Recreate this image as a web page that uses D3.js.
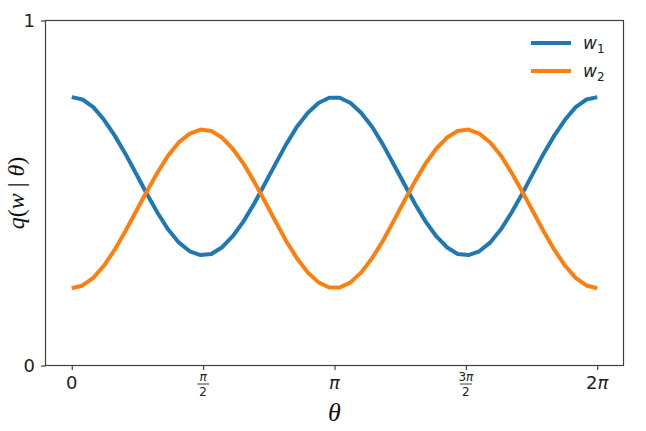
<!DOCTYPE html>
<html>
<head>
<meta charset="utf-8">
<script src="https://cdn.jsdelivr.net/npm/d3@7"></script>
<style>
  body { margin: 0; background: #fff; }
  svg { display: block; }
</style>
</head>
<body>
<svg id="chart" width="646" height="431"></svg>
<script>
// theta in units of pi
var theta = [0, 0.041, 0.082, 0.122, 0.163, 0.204, 0.245, 0.286, 0.327, 0.367,
  0.408, 0.449, 0.490, 0.531, 0.571, 0.612, 0.653, 0.694, 0.735, 0.776,
  0.816, 0.857, 0.898, 0.939, 0.980, 1.020, 1.061, 1.102, 1.143, 1.184,
  1.224, 1.265, 1.306, 1.347, 1.388, 1.429, 1.469, 1.510, 1.551, 1.592,
  1.633, 1.673, 1.714, 1.755, 1.796, 1.837, 1.878, 1.918, 1.959, 2.000];

var w1 = [0.778, 0.771, 0.749, 0.713, 0.667, 0.614, 0.556, 0.497, 0.442, 0.394,
  0.356, 0.331, 0.320, 0.323, 0.342, 0.374, 0.417, 0.469, 0.527, 0.585,
  0.641, 0.692, 0.732, 0.761, 0.776, 0.776, 0.761, 0.732, 0.692, 0.641,
  0.585, 0.527, 0.469, 0.417, 0.374, 0.342, 0.323, 0.320, 0.331, 0.356,
  0.394, 0.442, 0.497, 0.556, 0.614, 0.667, 0.713, 0.749, 0.771, 0.778];

var w2 = [0.224, 0.232, 0.254, 0.289, 0.335, 0.389, 0.447, 0.505, 0.560, 0.609,
  0.647, 0.672, 0.684, 0.680, 0.661, 0.629, 0.586, 0.533, 0.476, 0.417,
  0.361, 0.311, 0.270, 0.241, 0.226, 0.226, 0.241, 0.270, 0.311, 0.361,
  0.417, 0.476, 0.533, 0.586, 0.629, 0.661, 0.680, 0.684, 0.672, 0.647,
  0.609, 0.560, 0.505, 0.447, 0.389, 0.335, 0.289, 0.254, 0.232, 0.224];

var xTicks = [0, 0.5, 1, 1.5, 2];
var xTickLabels = [{t: '0'}, {num: 'π', den: '2'}, {t: 'π'}, {num: '3π', den: '2'}, {t: '2π'}];
var yTicks = [0, 1];

var series = [
  {name: 'w', sub: '1', values: w1, color: '#1f77b4'},
  {name: 'w', sub: '2', values: w2, color: '#ff7f0e'}
];

var svg = d3.select('#chart');
var mLeft = 45.5, mRight = 623.5, mTop = 20.5, mBottom = 365.5;

var x = d3.scaleLinear().domain([-0.1, 2.1]).range([mLeft, mRight]);
var y = d3.scaleLinear().domain([0, 1]).range([mBottom, mTop]);

var sans = "'DejaVu Sans', sans-serif";
var serif = "'Liberation Serif', 'DejaVu Serif', serif";

// split "3π" into digits + italic pi
function mathText(sel, str){
  str.split('').forEach(function(ch){
    sel.append('tspan')
      .attr('font-style', ch === 'π' ? 'italic' : 'normal')
      .text(ch);
  });
}

// lines
var line = d3.line()
  .x(function(d, i){ return x(theta[i]); })
  .y(function(d){ return y(d); });

svg.selectAll('.curve')
  .data(series).enter()
  .append('path')
  .attr('class', 'curve')
  .attr('d', function(d){ return line(d.values); })
  .attr('fill', 'none')
  .attr('stroke', function(d){ return d.color; })
  .attr('stroke-width', 4)
  .attr('stroke-linejoin', 'round');

// frame
svg.append('rect')
  .attr('x', mLeft).attr('y', mTop)
  .attr('width', mRight - mLeft).attr('height', mBottom - mTop)
  .attr('fill', 'none')
  .attr('stroke', '#404040')
  .attr('stroke-width', 1.2);

// x axis
var xAxis = d3.axisBottom(x).tickValues(xTicks).tickSize(4.5).tickFormat('');
var gx = svg.append('g').attr('transform', 'translate(0,' + mBottom + ')').call(xAxis);
gx.select('.domain').remove();
gx.selectAll('line').attr('stroke', '#404040').attr('stroke-width', 1.2);

xTicks.forEach(function(v, i){
  var lab = xTickLabels[i];
  var cx = x(v);
  if (lab.t) {
    var t = svg.append('text')
      .attr('x', cx).attr('y', 389)
      .attr('text-anchor', 'middle')
      .attr('font-family', sans)
      .attr('font-size', 18)
      .attr('fill', '#222');
    mathText(t, lab.t);
  } else {
    var n = svg.append('text')
      .attr('x', cx).attr('y', 381)
      .attr('text-anchor', 'middle')
      .attr('font-family', sans)
      .attr('font-size', 12)
      .attr('fill', '#222');
    mathText(n, lab.num);
    svg.append('line')
      .attr('x1', cx - 6).attr('x2', cx + 6)
      .attr('y1', 384).attr('y2', 384)
      .attr('stroke', '#222').attr('stroke-width', 0.9);
    svg.append('text')
      .attr('x', cx).attr('y', 396)
      .attr('text-anchor', 'middle')
      .attr('font-family', sans)
      .attr('font-size', 12)
      .attr('fill', '#222')
      .text(lab.den);
  }
});

// y axis
var yAxis = d3.axisLeft(y).tickValues(yTicks).tickSize(4.5).tickFormat('');
var gy = svg.append('g').attr('transform', 'translate(' + mLeft + ',0)').call(yAxis);
gy.select('.domain').remove();
gy.selectAll('line').attr('stroke', '#404040').attr('stroke-width', 1.2);

svg.selectAll('.ylab')
  .data(yTicks).enter()
  .append('text')
  .attr('class', 'ylab')
  .attr('x', 35)
  .attr('y', function(d){ return y(d); })
  .attr('dy', '0.35em')
  .attr('text-anchor', 'end')
  .attr('font-family', sans)
  .attr('font-size', 18)
  .attr('fill', '#222')
  .text(function(d){ return d; });

// axis titles
var yTitle = svg.append('text')
  .attr('transform', 'translate(24,' + ((mTop + mBottom) / 2) + ') rotate(-90)')
  .attr('text-anchor', 'middle')
  .attr('font-family', serif)
  .attr('font-size', 24)
  .attr('fill', '#111');
yTitle.append('tspan').attr('font-style', 'italic').text('q');
yTitle.append('tspan').text('(');
yTitle.append('tspan').attr('font-style', 'italic').text('w');
yTitle.append('tspan').text(' | ');
yTitle.append('tspan').attr('font-style', 'italic').text('θ');
yTitle.append('tspan').text(')');

svg.append('text')
  .attr('x', x(1)).attr('y', 421)
  .attr('text-anchor', 'middle')
  .attr('font-family', serif)
  .attr('font-style', 'italic')
  .attr('font-size', 26)
  .attr('fill', '#111')
  .text('θ');

// legend
var legend = svg.selectAll('.legend')
  .data(series).enter()
  .append('g')
  .attr('class', 'legend')
  .attr('transform', function(d, i){ return 'translate(531,' + (43 + i * 28) + ')'; });

legend.append('line')
  .attr('x1', 0).attr('x2', 40)
  .attr('stroke', function(d){ return d.color; })
  .attr('stroke-width', 4);

var lt = legend.append('text')
  .attr('x', 52).attr('y', 6)
  .attr('font-family', sans)
  .attr('font-size', 17)
  .attr('fill', '#222');
lt.append('tspan').attr('font-style', 'italic').text(function(d){ return d.name; });
lt.append('tspan').attr('font-size', 12).attr('dy', 4).text(function(d){ return d.sub; });
</script>
</body>
</html>
